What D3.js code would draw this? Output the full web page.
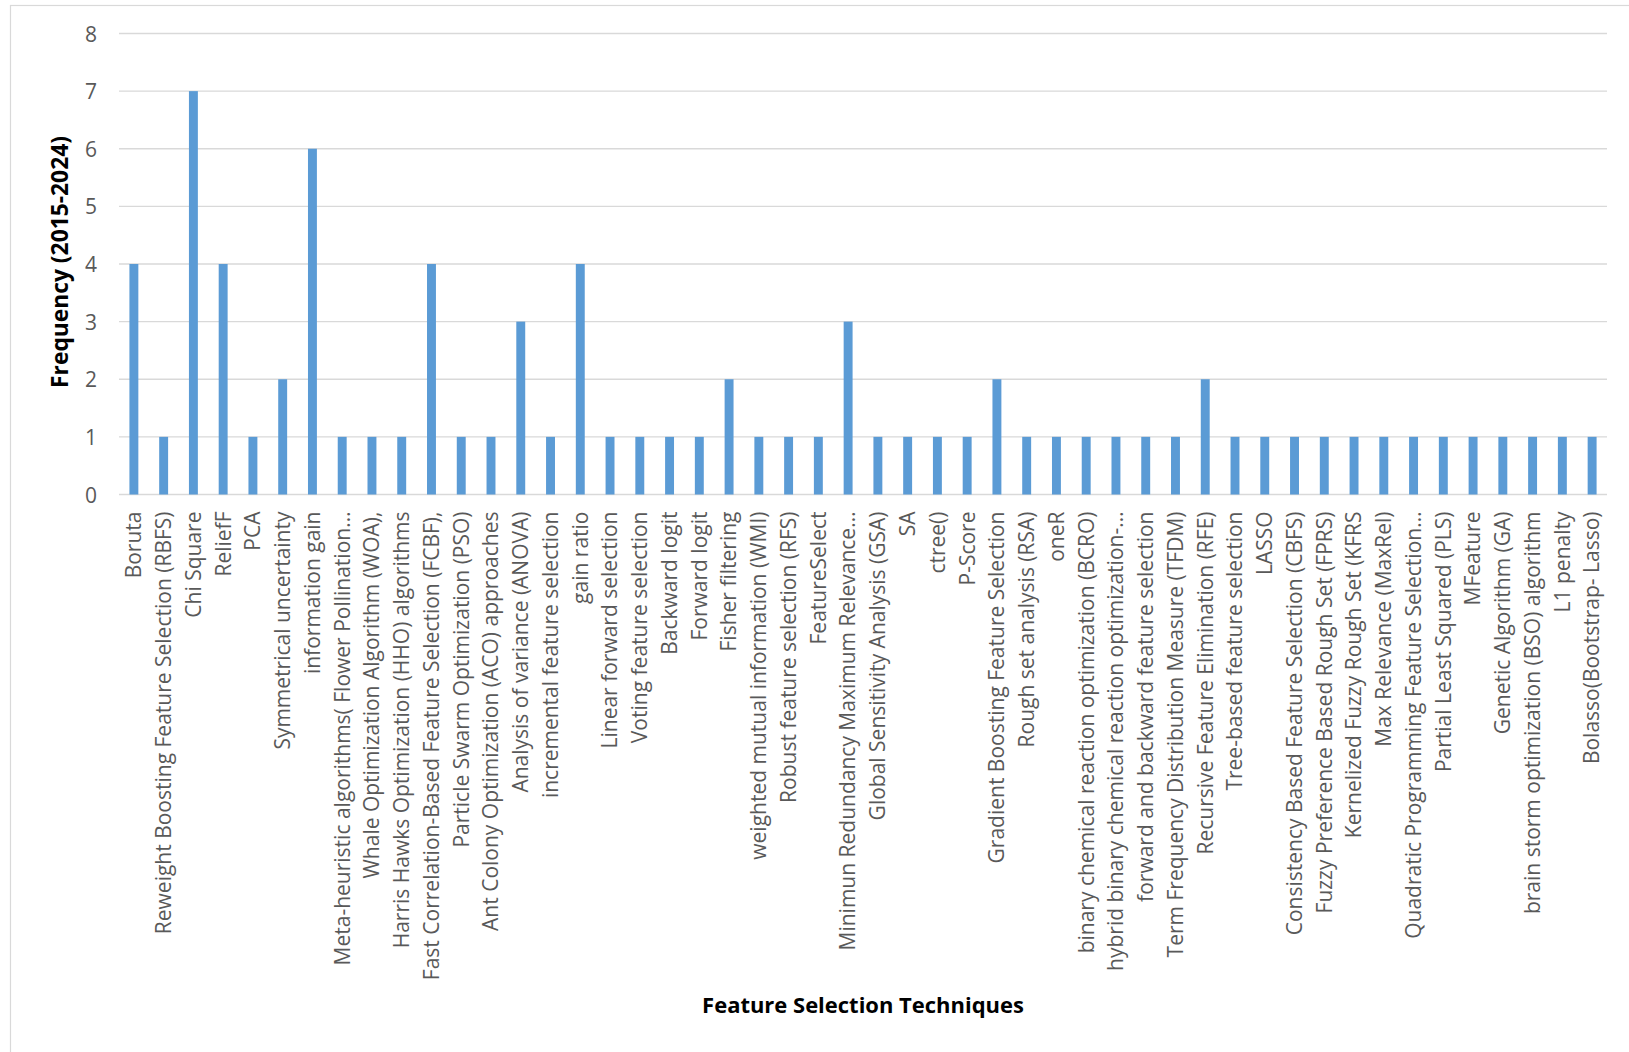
<!DOCTYPE html>
<html><head><meta charset="utf-8">
<script src="https://cdn.jsdelivr.net/npm/d3@7"></script>
<style>body{margin:0;background:#fff}svg{display:block}</style>
</head><body>
<svg id="c" width="1629" height="1052"></svg>
<script>
const categories = [
 "Boruta","Reweight Boosting Feature Selection (RBFS)","Chi Square","ReliefF","PCA",
 "Symmetrical uncertainty","information gain","Meta-heuristic algorithms( Flower Pollination…",
 "Whale Optimization Algorithm (WOA),","Harris Hawks Optimization (HHO) algorithms",
 "Fast Correlation-Based Feature Selection (FCBF),","Particle Swarm Optimization (PSO)",
 "Ant Colony Optimization (ACO) approaches","Analysis of variance (ANOVA)",
 "incremental feature selection","gain ratio","Linear forward selection","Voting feature selection",
 "Backward logit","Forward logit","Fisher filtering","weighted mutual information (WMI)",
 "Robust feature selection (RFS)","FeatureSelect","Minimun Redundancy Maximum Relevance…",
 "Global Sensitivity Analysis (GSA)","SA","ctree()","P-Score","Gradient Boosting Feature Selection",
 "Rough set analysis (RSA)","oneR","binary chemical reaction optimization (BCRO)",
 "hybrid binary chemical reaction optimization-…","forward and backward feature selection",
 "Term Frequency Distribution Measure (TFDM)","Recursive Feature Elimination (RFE)",
 "Tree-based feature selection","LASSO","Consistency Based Feature Selection (CBFS)",
 "Fuzzy Preference Based Rough Set (FPRS)","Kernelized Fuzzy Rough Set (KFRS",
 "Max Relevance (MaxRel)","Quadratic Programming Feature Selection…","Partial Least Squared (PLS)",
 "MFeature","Genetic Algorithm (GA)","brain storm optimization (BSO) algorithm","L1 penalty",
 "Bolasso(Bootstrap- Lasso)"
];
const frequency = [4,1,7,4,1,2,6,1,1,1,4,1,1,3,1,4,1,1,1,1,2,1,1,1,3,1,1,1,1,2,1,1,1,1,1,1,2,1,1,1,1,1,1,1,1,1,1,1,1,1];
const yTicks = [0,1,2,3,4,5,6,7,8];
const yTitle = "Frequency (2015-2024)";
const xTitle = "Feature Selection Techniques";

const svg = d3.select("#c");
const FONT = "'Open Sans', 'Noto Sans', sans-serif";
const pLeft = 119, pRight = 1607, pTop = 33.5, pBottom = 494.5;

svg.append("rect").attr("x",10.5).attr("y",5.5).attr("width",1700).attr("height",1200)
  .attr("fill","none").attr("stroke","#d9d9d9").attr("stroke-width",1.2);

const x = d3.scaleBand().domain(categories).range([pLeft,pRight]).paddingInner(0.7).paddingOuter(0.35);
const y = d3.scaleLinear().domain([0,8]).range([pBottom,pTop]);

svg.append("g").selectAll("line").data(yTicks).join("line")
  .attr("x1",pLeft).attr("x2",pRight).attr("y1",d=>y(d)).attr("y2",d=>y(d))
  .attr("stroke","#d9d9d9").attr("stroke-width",1.3);

svg.append("g").selectAll("rect").data(categories).join("rect")
  .attr("x",d=>x(d)).attr("width",x.bandwidth())
  .attr("y",(d,i)=>y(frequency[i])).attr("height",(d,i)=>y(0)-y(frequency[i]))
  .attr("fill","#5b9bd5");

const yAxis = d3.axisLeft(y).tickValues(yTicks).tickSize(0).tickPadding(0);
const ya = svg.append("g").attr("transform",`translate(97,0)`).call(yAxis);
ya.select(".domain").remove();
ya.selectAll("text").attr("font-family",FONT).attr("font-size",21).attr("fill","#595959").attr("dy","0.36em");

const xAxis = d3.axisBottom(x).tickSize(0).tickPadding(0);
const xa = svg.append("g").attr("transform",`translate(0,${pBottom})`).call(xAxis);
xa.select(".domain").remove();
const labels = xa.selectAll("text")
  .attr("font-family",FONT).attr("fill","#595959")
  .attr("text-anchor","end")
  .attr("transform","rotate(-90)")
  .attr("x",-17).attr("y",0).attr("dy","0.35em");

function fit(sel, size, target){
  sel.attr("font-size",size);
  const w = sel.node().getComputedTextLength();
  return size*target/w;
}
const ref = labels.filter(d=>d===categories[1]);
const fs = fit(ref,18,423);
labels.attr("font-size",fs);

const yt = svg.append("text").text(yTitle)
  .attr("font-family",FONT).attr("font-weight","bold").attr("fill","#000")
  .attr("text-anchor","middle")
  .attr("transform","translate(68,262) rotate(-90)");
yt.attr("font-size",fit(yt,20,252));

const xt = svg.append("text").text(xTitle)
  .attr("font-family",FONT).attr("font-weight","bold").attr("fill","#000")
  .attr("text-anchor","middle").attr("x",863).attr("y",1013);
xt.attr("font-size",fit(xt,20,322));
</script>
</body></html>
